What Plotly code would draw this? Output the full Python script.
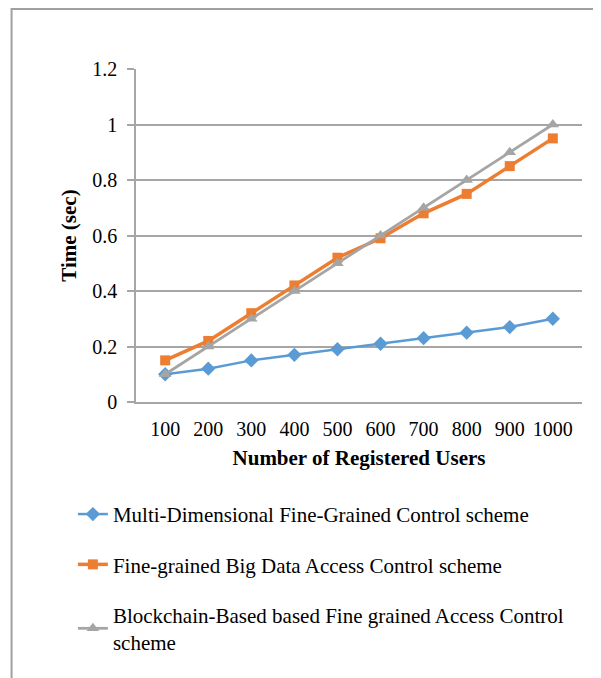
import plotly.graph_objects as go

users = ["100", "200", "300", "400", "500", "600", "700", "800", "900", "1000"]
multi_dim = [0.10, 0.12, 0.15, 0.17, 0.19, 0.21, 0.23, 0.25, 0.27, 0.30]
big_data = [0.15, 0.22, 0.32, 0.42, 0.52, 0.59, 0.68, 0.75, 0.85, 0.95]
blockchain = [0.10, 0.20, 0.30, 0.40, 0.50, 0.60, 0.70, 0.80, 0.90, 1.00]
y_ticks = [0, 0.2, 0.4, 0.6, 0.8, 1.0, 1.2]
y_tick_text = ["0", "0.2", "0.4", "0.6", "0.8", "1", "1.2"]

names = [
    "Multi-Dimensional Fine-Grained Control scheme",
    "Fine-grained Big Data Access Control scheme",
    "Blockchain-Based based Fine grained Access Control<br>scheme",
]

FONT = "Liberation Serif, Times New Roman, serif"

fig = go.Figure()
fig.add_trace(go.Scatter(
    x=users, y=multi_dim, name=names[0], mode="lines+markers", legendgroup="a",
    line=dict(color="#5B9BD5", width=2.5),
    marker=dict(symbol="diamond", size=11, color="#5B9BD5"),
))
fig.add_trace(go.Scatter(
    x=users, y=big_data, name=names[1], mode="lines+markers", legendgroup="b",
    line=dict(color="#ED7D31", width=3.5),
    marker=dict(symbol="square", size=10, color="#ED7D31"),
))
fig.add_trace(go.Scatter(
    x=users, y=blockchain, name=names[2], mode="lines+markers", legendgroup="c",
    line=dict(color="#A5A5A5", width=2.75),
    marker=dict(symbol="triangle-up", size=11, color="#A5A5A5"),
))

fig.add_shape(type="rect", xref="paper", yref="paper",
              x0=-0.279, x1=1.1, y0=-0.95, y1=1.18,
              line=dict(color="#A0A0A0", width=2), fillcolor="rgba(0,0,0,0)", layer="below")

fig.update_layout(
    width=601, height=678,
    margin=dict(l=128, r=27, t=61, b=284),
    paper_bgcolor="white", plot_bgcolor="white",
    font=dict(family=FONT, size=20, color="black"),
    showlegend=True,
    legend=dict(
        orientation="v", x=-0.1415, xanchor="left", y=-0.276, yanchor="top",
        font=dict(family=FONT, size=21, color="black"),
        tracegroupgap=20, bgcolor="rgba(0,0,0,0)",
    ),
    xaxis=dict(
        type="category", showgrid=False, showline=True, linecolor="#A6A6A6", linewidth=1.5,
        ticks="", tickfont=dict(family=FONT, size=20), ticklabelstandoff=8,
        title=dict(text="<b>Number of Registered Users</b>", font=dict(family=FONT, size=21), standoff=12),
        fixedrange=True,
    ),
    yaxis=dict(
        range=[0, 1.2], tickvals=y_ticks, ticktext=y_tick_text,
        showgrid=True, gridcolor="#A6A6A6", gridwidth=1.5,
        showline=True, linecolor="#A6A6A6", linewidth=1.5,
        ticks="outside", ticklen=7, tickcolor="#A6A6A6", tickwidth=1.5,
        zeroline=False, tickfont=dict(family=FONT, size=20), ticklabelstandoff=6,
        title=dict(text="<b>Time (sec)</b>", font=dict(family=FONT, size=21), standoff=10),
        fixedrange=True,
    ),
)

fig.write_html("out.html")
